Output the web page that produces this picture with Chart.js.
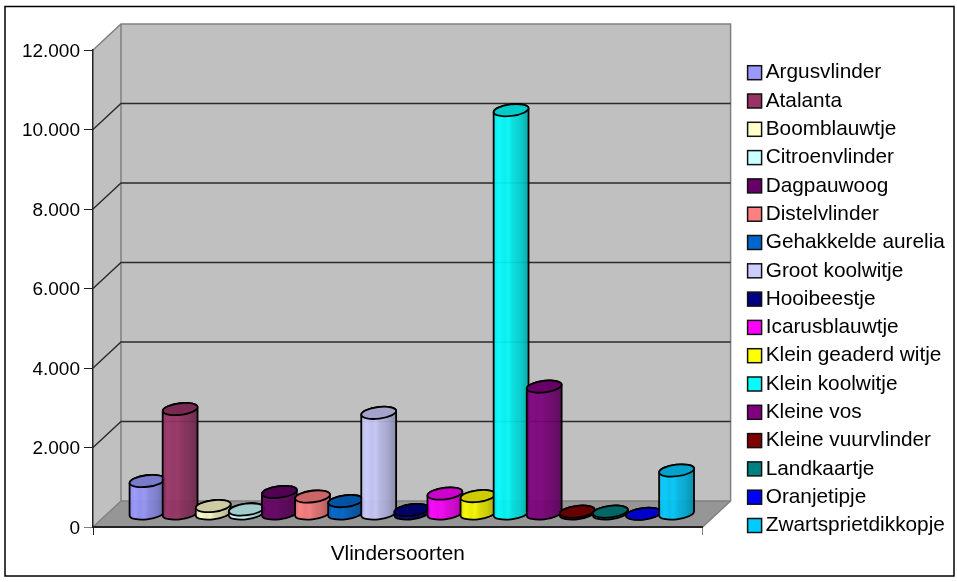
<!DOCTYPE html>
<html>
<head>
<meta charset="utf-8">
<title>Vlindersoorten</title>
<script src="https://cdn.jsdelivr.net/npm/chart.js@4"></script>
<style>
    html, body { margin: 0; padding: 0; background: #fff; }
    canvas { display: block; }
</style>
</head>
<body>
<canvas id="vlinderGraph" width="957" height="582"></canvas>
<script>
const categorie = ['Vlindersoorten'];
const soorten = ['Argusvlinder', 'Atalanta', 'Boomblauwtje', 'Citroenvlinder', 'Dagpauwoog', 'Distelvlinder',
    'Gehakkelde aurelia', 'Groot koolwitje', 'Hooibeestje', 'Icarusblauwtje', 'Klein geaderd witje',
    'Klein koolwitje', 'Kleine vos', 'Kleine vuurvlinder', 'Landkaartje', 'Oranjetipje', 'Zwartsprietdikkopje'];
const aantallen = [830, 2640, 200, 115, 555, 440, 325, 2545, 100, 515, 450, 10160, 3205, 60, 60, 5, 1095];
const kleuren = ['#9999FF', '#993366', '#FFFFCC', '#CCFFFF', '#660066', '#FF8080', '#0066CC', '#CCCCFF', '#000080',
    '#FF00FF', '#FFFF00', '#00FFFF', '#800080', '#800000', '#008080', '#0000FF', '#00CCFF'];

// depth of the fake 3D box, bars stand halfway
const DEPTH_X = 28;
const DEPTH_Y = -26;

function shade(hex, f) {
    const n = parseInt(hex.slice(1), 16);
    return 'rgb(' + Math.round((n >> 16) * f) + ',' + Math.round(((n >> 8) & 255) * f) + ',' + Math.round((n & 255) * f) + ')';
}

function drawCylinder(ctx, bar, color) {
    const cx = bar.x + DEPTH_X / 2;
    const top = bar.y + DEPTH_Y / 2;
    const base = bar.base + DEPTH_Y / 2;
    const a = bar.width / 2 + 1;
    const b = 5.8;
    const rot = -7 * Math.PI / 180;
    const t0 = Math.atan(-(b / a) * Math.tan(rot));

    const grad = ctx.createLinearGradient(cx - a, 0, cx + a, 0);
    grad.addColorStop(0, shade(color, 0.92));
    grad.addColorStop(0.15, shade(color, 1));
    grad.addColorStop(0.3, shade(color, 0.94));
    grad.addColorStop(0.42, shade(color, 0.98));
    grad.addColorStop(0.55, shade(color, 0.88));
    grad.addColorStop(0.75, shade(color, 0.82));
    grad.addColorStop(1, shade(color, 0.66));

    ctx.save();
    ctx.lineWidth = 1.8;
    ctx.strokeStyle = '#000';
    ctx.globalAlpha = 0.93;
    ctx.beginPath();
    ctx.ellipse(cx, base, a, b, rot, t0, t0 + Math.PI);
    ctx.ellipse(cx, top, a, b, rot, t0 + Math.PI, t0 + 2 * Math.PI);
    ctx.closePath();
    ctx.fillStyle = grad;
    ctx.fill();
    ctx.globalAlpha = 1;
    ctx.stroke();

    ctx.beginPath();
    ctx.ellipse(cx, top, a, b, rot, 0, 2 * Math.PI);
    ctx.fillStyle = shade(color, 0.8);
    ctx.fill();
    ctx.stroke();
    ctx.restore();
}

const box3d = {
    id: 'box3d',
    beforeDraw(chart) {
        const ctx = chart.ctx;
        const area = chart.chartArea;
        const y = chart.scales.y;
        const bx = area.left + DEPTH_X, by0 = area.bottom + DEPTH_Y, by1 = area.top + DEPTH_Y;

        ctx.save();
        // frame round the whole picture
        ctx.fillStyle = '#fff';
        ctx.fillRect(0, 0, chart.width, chart.height);
        ctx.strokeStyle = '#000';
        ctx.lineWidth = 1.5;
        ctx.strokeRect(5, 6.5, 949, 569.5);

        // walls
        ctx.fillStyle = '#C0C0C0';
        ctx.fillRect(bx, by1, area.width, area.height);
        ctx.beginPath();
        ctx.moveTo(area.left, area.top);
        ctx.lineTo(bx, by1);
        ctx.lineTo(bx, by0);
        ctx.lineTo(area.left, area.bottom);
        ctx.closePath();
        ctx.fill();

        // floor
        ctx.fillStyle = '#969696';
        ctx.beginPath();
        ctx.moveTo(area.left, area.bottom);
        ctx.lineTo(bx, by0);
        ctx.lineTo(area.right + DEPTH_X, by0);
        ctx.lineTo(area.right, area.bottom);
        ctx.closePath();
        ctx.fill();

        // box edges
        ctx.lineWidth = 1.5;
        ctx.strokeStyle = '#808080';
        ctx.beginPath();
        ctx.moveTo(area.left, area.top);
        ctx.lineTo(bx, by1);
        ctx.lineTo(area.right + DEPTH_X, by1);
        ctx.lineTo(area.right + DEPTH_X, by0);
        ctx.lineTo(area.right, area.bottom);
        ctx.moveTo(bx, by1);
        ctx.lineTo(bx, by0);
        ctx.lineTo(area.left, area.bottom);
        ctx.moveTo(bx, by0);
        ctx.lineTo(area.right + DEPTH_X, by0);
        ctx.stroke();

        // gridlines follow the value scale
        ctx.lineWidth = 1.4;
        ctx.strokeStyle = '#2a2a2a';
        y.ticks.forEach(function (t) {
            if (t.value === y.min || t.value === y.max) return;
            const py = y.getPixelForValue(t.value);
            ctx.beginPath();
            ctx.moveTo(area.left, py);
            ctx.lineTo(bx, py + DEPTH_Y);
            ctx.lineTo(area.right + DEPTH_X, py + DEPTH_Y);
            ctx.stroke();
        });
        ctx.restore();
    },
    beforeDatasetDraw() {
        return false;
    },
    afterDatasetsDraw(chart) {
        // later species stand in front of earlier ones
        chart.data.datasets.forEach(function (ds, i) {
            chart.getDatasetMeta(i).data.forEach(function (bar) {
                drawCylinder(chart.ctx, bar, ds.backgroundColor);
            });
        });
    },
    afterDraw(chart) {
        const ctx = chart.ctx;
        ctx.save();
        chart.legend.legendHitBoxes.forEach(function (hit, i) {
            const top = hit.top + (hit.height - 14) / 2;
            ctx.clearRect(hit.left - 1, top - 1, 12, 16);
            ctx.fillStyle = kleuren[i];
            ctx.fillRect(hit.left + 1, top, 14, 14);
            ctx.strokeStyle = '#111';
            ctx.lineWidth = 1.5;
            ctx.strokeRect(hit.left + 1, top, 14, 14);
        });
        ctx.restore();
    }
};

const myChart = new Chart(document.getElementById('vlinderGraph'), {
    type: 'bar',
    plugins: [box3d],
    data: {
        labels: categorie,
        datasets: soorten.map(function (naam, i) {
            return { label: naam, data: [aantallen[i]], backgroundColor: kleuren[i] };
        })
    },
    options: {
        responsive: false,
        animation: false,
        categoryPercentage: 0.923,
        barPercentage: 1,
        layout: { padding: { left: 0, right: 2.1, top: 50, bottom: 0 } },
        plugins: {
            legend: {
                position: 'right',
                align: 'start',
                maxWidth: 230,
                // blank title only pushes the list down a little
                title: { display: true, text: ' ', padding: 0, font: { size: 4 } },
                labels: {
                    boxWidth: 8.7,
                    boxHeight: 14,
                    padding: 7.5,
                    color: '#000',
                    font: { family: 'Liberation Sans', size: 20.8 }
                }
            },
            tooltip: { enabled: false }
        },
        scales: {
            x: {
                offset: true,
                afterFit: function (s) { s.height = 55; },
                ticks: { display: false },
                grid: {
                    drawOnChartArea: false,
                    tickLength: 8,
                    color: function (c) { return c.index === 0 ? '#222' : '#808080'; }
                },
                border: { color: '#222', width: 2 },
                title: {
                    display: true,
                    text: categorie[0],
                    color: '#000',
                    padding: { top: 0, bottom: 15 },
                    font: { family: 'Liberation Sans', size: 20.8 }
                }
            },
            y: {
                min: 0,
                max: 12000,
                afterFit: function (s) { s.width = 93; },
                ticks: {
                    stepSize: 2000,
                    padding: 4,
                    color: '#000',
                    // empty first line with a tight line height drops the text 1.5px, like the original
                    font: { family: 'Liberation Sans', size: 19, lineHeight: 0.16 },
                    callback: function (v) { return ['', String(v).replace(/\B(?=(\d{3})+$)/g, '.')]; }
                },
                grid: {
                    drawOnChartArea: false,
                    tickLength: 9,
                    color: function (c) { return c.tick && c.tick.value === 0 ? '#808080' : '#222'; }
                },
                border: { color: '#222', width: 1.5 }
            },
            ruimte: {
                position: 'right',
                afterFit: function (s) { s.width = 36.5; },
                ticks: { display: false },
                grid: { display: false },
                border: { display: false }
            }
        }
    }
});
</script>
</body>
</html>
